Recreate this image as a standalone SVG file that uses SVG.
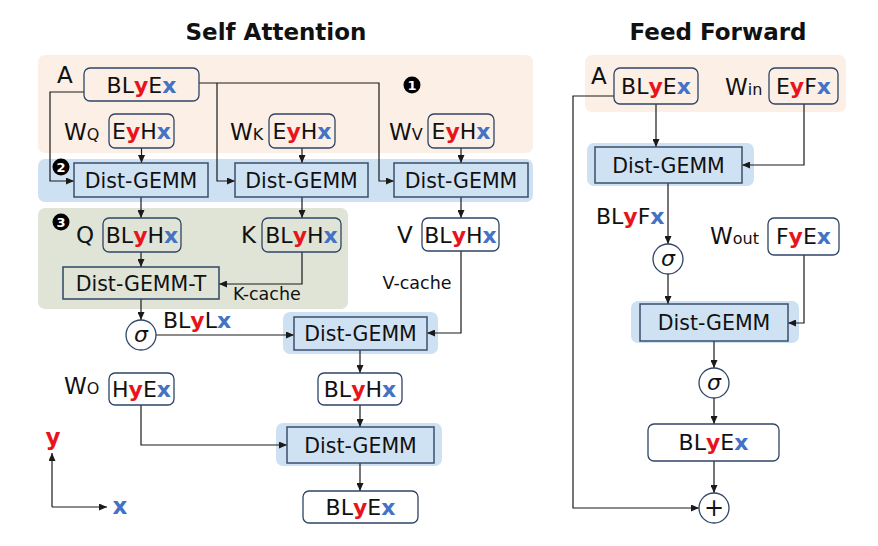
<svg xmlns="http://www.w3.org/2000/svg" width="878" height="546" viewBox="0 0 878 546">
<defs>
<marker id="ah" markerUnits="userSpaceOnUse" markerWidth="8" markerHeight="7" refX="8" refY="3.5" orient="auto">
<path d="M0,0 L8,3.5 L0,7 z" fill="#1a1a1a"/>
</marker>
</defs>
<style>
text{font-family:"DejaVu Sans","Verdana",sans-serif;fill:#111}
.title{font-size:23px;font-weight:bold}
.lbl{font-size:22px}
.big{font-size:23px}
.sub{font-size:16px}
.box{fill:none;stroke:#2f4467;stroke-width:1.3}
.wbox{fill:#fff;stroke:#2f4467;stroke-width:1.3}
.gemm{fill:#cfe2f3;stroke:#3b4f6b;stroke-width:1.5}
.bt{font-size:22px;text-anchor:middle}
.gt{font-size:20.5px;text-anchor:middle}
.y{fill:#e8141c;font-weight:bold}
.x{fill:#4472c4;font-weight:bold}
.peach{fill:#fcefe5}
.band{fill:#cde1f2}
.green{fill:#dfe4d7}
.conn{fill:none;stroke:#1a1a1a;stroke-width:1.2;marker-end:url(#ah)}
.circ{fill:#fff;stroke:#2f4467;stroke-width:1.3}
.badge{fill:#000}
.bn{font-size:13px;font-weight:bold;fill:#fff;text-anchor:middle}
.small{font-size:17.5px}
.sig{font-size:22px;font-style:italic;text-anchor:middle}
</style>
<rect width="878" height="546" fill="#fff"/>

<g id="titles">
<text class="title" x="276" y="40" text-anchor="middle">Self Attention</text>
<text class="title" x="718" y="40" text-anchor="middle">Feed Forward</text>
</g>

<g id="backgrounds">
<rect class="peach" x="38" y="55" width="495" height="98" rx="7"/>
<rect class="band" x="38" y="159" width="495" height="43" rx="7"/>
<rect class="green" x="38" y="208" width="310" height="101" rx="7"/>
<rect class="band" x="283" y="312" width="155" height="42" rx="7"/>
<rect class="band" x="276" y="423" width="166" height="43" rx="7"/>
<rect class="peach" x="585" y="55" width="261" height="57" rx="7"/>
<rect class="band" x="587" y="143" width="167" height="43" rx="7"/>
<rect class="band" x="631" y="301" width="168" height="42" rx="7"/>
</g>

<g id="badges">
<circle class="badge" cx="412" cy="85" r="8.5"/><text class="bn" x="412" y="89.5">1</text>
<circle class="badge" cx="61" cy="167" r="8.5"/><text class="bn" x="61" y="171.5">2</text>
<circle class="badge" cx="61" cy="222" r="8.5"/><text class="bn" x="61" y="226.5">3</text>
</g>

<g id="connectors">
<path class="conn" d="M84,92 H50 V181 H74"/>
<path class="conn" d="M199,83 H379 V181 H394"/>
<path class="conn" d="M217,83 V181 H235"/>
<path class="conn" d="M141.5,148 V163"/>
<path class="conn" d="M302,148 V163"/>
<path class="conn" d="M461,148 V163"/>
<path class="conn" d="M141,197 V218"/>
<path class="conn" d="M302,197 V218"/>
<path class="conn" d="M461,197 V218"/>
<path class="conn" d="M141,252 V267"/>
<path class="conn" d="M302,252 V284 H219"/>
<path class="conn" d="M141,299 V320"/>
<path class="conn" d="M156,335 H294"/>
<path class="conn" d="M461,251 V333 H427"/>
<path class="conn" d="M360,350 V373"/>
<path class="conn" d="M360,405 V427"/>
<path class="conn" d="M141,405 V445 H287"/>
<path class="conn" d="M360,463 V491"/>
<path class="conn" d="M52,507 V453"/>
<path class="conn" d="M52,507 H107"/>
<path class="conn" d="M656,104 V147"/>
<path class="conn" d="M804,104 V165 H742"/>
<path class="conn" d="M614,96 H573 V508 H699"/>
<path class="conn" d="M668,183 V244"/>
<path class="conn" d="M668,274 V304"/>
<path class="conn" d="M804,255 V323 H788"/>
<path class="conn" d="M714,341 V368"/>
<path class="conn" d="M714,398 V424"/>
<path class="conn" d="M714,461 V493"/>
</g>

<g id="sa-A">
<text class="big" x="57" y="83">A</text>
<rect class="box" x="84" y="68" width="115" height="33" rx="6"/>
<text class="bt" x="141.5" y="93">BL<tspan class="y">y</tspan>E<tspan class="x">x</tspan></text>
</g>
<g id="sa-WQ">
<text class="big" x="64" y="140">W<tspan class="sub">Q</tspan></text>
<rect class="box" x="109" y="114" width="65" height="34" rx="6"/>
<text class="bt" x="141.5" y="139">E<tspan class="y">y</tspan>H<tspan class="x">x</tspan></text>
</g>
<g id="sa-WK">
<text class="big" x="230" y="140">W<tspan class="sub">K</tspan></text>
<rect class="box" x="269" y="114" width="66" height="34" rx="6"/>
<text class="bt" x="302" y="139">E<tspan class="y">y</tspan>H<tspan class="x">x</tspan></text>
</g>
<g id="sa-WV">
<text class="big" x="389" y="140">W<tspan class="sub">V</tspan></text>
<rect class="box" x="428" y="114" width="66" height="34" rx="6"/>
<text class="bt" x="461" y="139">E<tspan class="y">y</tspan>H<tspan class="x">x</tspan></text>
</g>
<g id="sa-gemm-q">
<rect class="gemm" x="74" y="163" width="134" height="34"/>
<text class="gt" x="141" y="187.5">Dist-GEMM</text>
</g>
<g id="sa-gemm-k">
<rect class="gemm" x="235" y="163" width="133" height="34"/>
<text class="gt" x="301.5" y="187.5">Dist-GEMM</text>
</g>
<g id="sa-gemm-v">
<rect class="gemm" x="394" y="163" width="134" height="34"/>
<text class="gt" x="461" y="187.5">Dist-GEMM</text>
</g>
<g id="sa-Q">
<text class="big" x="76" y="243">Q</text>
<rect class="box" x="103" y="218" width="78" height="34" rx="6"/>
<text class="bt" x="142" y="243">BL<tspan class="y">y</tspan>H<tspan class="x">x</tspan></text>
</g>
<g id="sa-K">
<text class="big" x="241" y="243">K</text>
<rect class="box" x="262" y="218" width="79" height="34" rx="6"/>
<text class="bt" x="301.5" y="243">BL<tspan class="y">y</tspan>H<tspan class="x">x</tspan></text>
</g>
<g id="sa-V">
<text class="big" x="397" y="243">V</text>
<rect class="wbox" x="422" y="218" width="77" height="33" rx="6"/>
<text class="bt" x="460.5" y="243">BL<tspan class="y">y</tspan>H<tspan class="x">x</tspan></text>
</g>
<g id="sa-gemm-t">
<rect class="box" x="63" y="267" width="156" height="32" style="stroke-width:1.5"/>
<text class="gt" x="141" y="290.5">Dist-GEMM-T</text>
<text class="small" x="233" y="300">K-cache</text>
</g>
<g id="sa-vcache">
<text class="small" x="417" y="289" text-anchor="middle">V-cache</text>
</g>
<g id="sa-softmax">
<circle class="circ" cx="141" cy="335" r="15"/>
<text class="sig" x="141" y="342">σ</text>
<text class="lbl" x="163" y="328">BL<tspan class="y">y</tspan>L<tspan class="x">x</tspan></text>
</g>
<g id="sa-gemm-av">
<rect class="gemm" x="294" y="317" width="133" height="33"/>
<text class="gt" x="360.5" y="341">Dist-GEMM</text>
</g>
<g id="sa-WO">
<text class="big" x="64" y="394">W<tspan class="sub">O</tspan></text>
<rect class="box" x="109" y="373" width="65" height="32" rx="6"/>
<text class="bt" x="141.5" y="397">H<tspan class="y">y</tspan>E<tspan class="x">x</tspan></text>
</g>
<g id="sa-attn">
<rect class="wbox" x="318" y="373" width="84" height="32" rx="6"/>
<text class="bt" x="360" y="397">BL<tspan class="y">y</tspan>H<tspan class="x">x</tspan></text>
</g>
<g id="sa-gemm-o">
<rect class="gemm" x="287" y="427" width="147" height="36"/>
<text class="gt" x="360.5" y="452.5">Dist-GEMM</text>
</g>
<g id="sa-out">
<rect class="wbox" x="303" y="491" width="115" height="32" rx="6"/>
<text class="bt" x="360.5" y="515">BL<tspan class="y">y</tspan>E<tspan class="x">x</tspan></text>
</g>
<g id="axes">
<text class="big y" x="53" y="445" text-anchor="middle">y</text>
<text class="big x" x="120" y="514" text-anchor="middle">x</text>
</g>

<g id="ff-A">
<text class="big" x="591" y="84">A</text>
<rect class="box" x="614" y="68" width="84" height="36" rx="6"/>
<text class="bt" x="656" y="94">BL<tspan class="y">y</tspan>E<tspan class="x">x</tspan></text>
</g>
<g id="ff-Win">
<text class="big" x="725" y="95">W<tspan class="sub">in</tspan></text>
<rect class="box" x="769" y="68" width="69" height="36" rx="6"/>
<text class="bt" x="803.5" y="94">E<tspan class="y">y</tspan>F<tspan class="x">x</tspan></text>
</g>
<g id="ff-gemm1">
<rect class="gemm" x="595" y="147" width="147" height="36"/>
<text class="gt" x="668.5" y="172.5">Dist-GEMM</text>
</g>
<g id="ff-hidden">
<text class="lbl" x="596" y="224">BL<tspan class="y">y</tspan>F<tspan class="x">x</tspan></text>
</g>
<g id="ff-sigma1">
<circle class="circ" cx="668" cy="259" r="15"/>
<text class="sig" x="668" y="266">σ</text>
</g>
<g id="ff-Wout">
<text class="big" x="710" y="244">W<tspan class="sub">out</tspan></text>
<rect class="wbox" x="768" y="218" width="71" height="37" rx="6"/>
<text class="bt" x="803.5" y="244">F<tspan class="y">y</tspan>E<tspan class="x">x</tspan></text>
</g>
<g id="ff-gemm2">
<rect class="gemm" x="640" y="304" width="148" height="37"/>
<text class="gt" x="714" y="330">Dist-GEMM</text>
</g>
<g id="ff-sigma2">
<circle class="circ" cx="714" cy="383" r="15"/>
<text class="sig" x="714" y="390">σ</text>
</g>
<g id="ff-out">
<rect class="wbox" x="648" y="424" width="131" height="37" rx="6"/>
<text class="bt" x="713.5" y="450">BL<tspan class="y">y</tspan>E<tspan class="x">x</tspan></text>
</g>
<g id="ff-add">
<circle class="circ" cx="714" cy="508" r="15"/>
<text x="714" y="516" text-anchor="middle" style="font-size:24px">+</text>
</g>
</svg>
